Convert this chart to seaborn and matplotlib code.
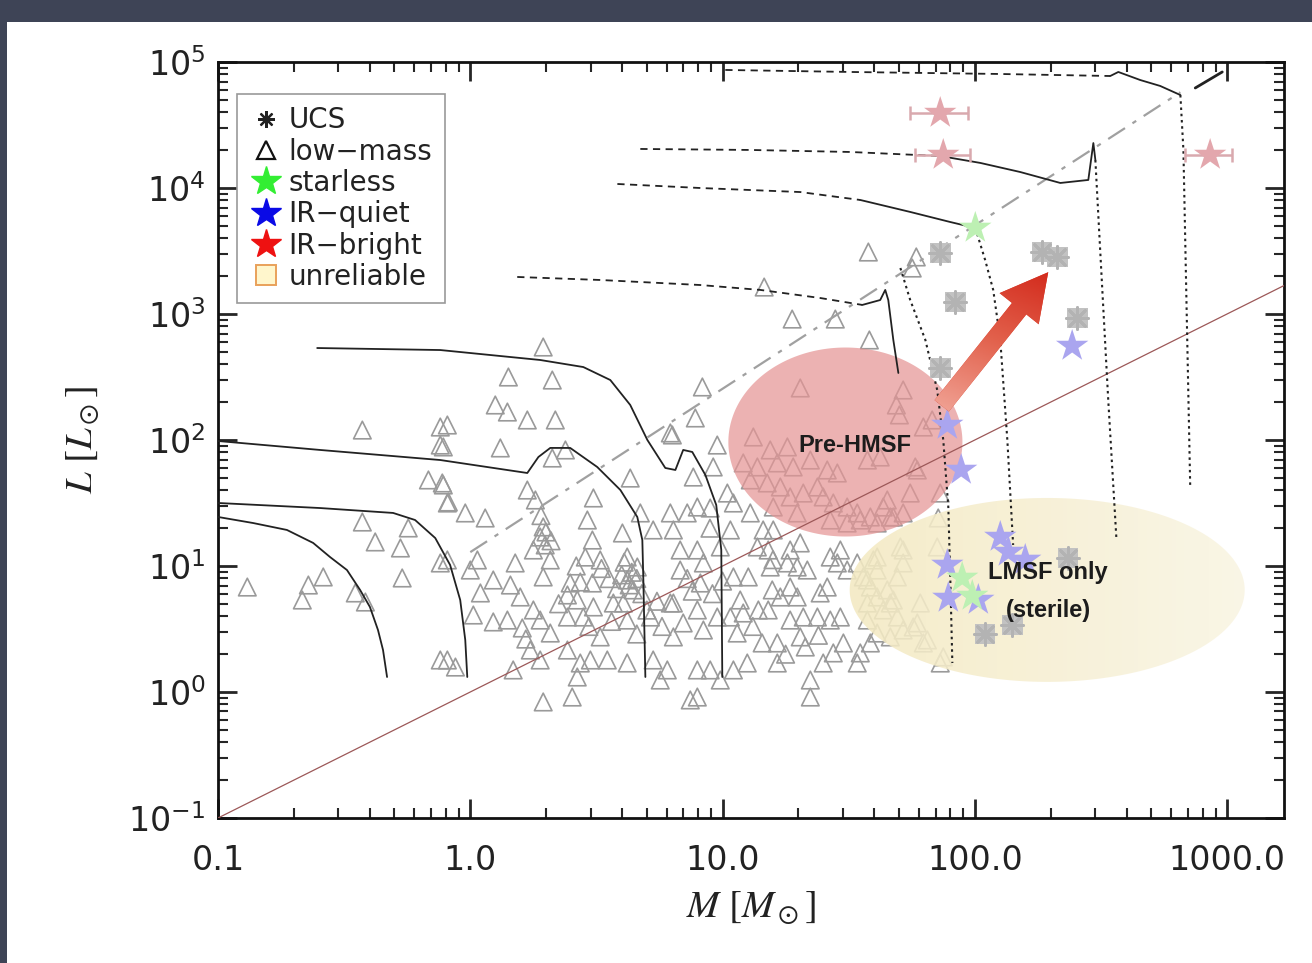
import numpy as np
import matplotlib.pyplot as plt
import seaborn as sns
from matplotlib.lines import Line2D
from matplotlib.patches import Rectangle, FancyArrowPatch
from matplotlib.colors import LinearSegmentedColormap
from matplotlib.ticker import LogLocator, NullFormatter, FixedLocator, FixedFormatter

# all values are log10(M/Msun), log10(L/Lsun)
lowmass_pts = [
    (-0.428, 2.079), (-0.884, 0.833), (-0.642, 0.849), (-0.583, 0.913), (-0.666, 0.730),
    (-0.456, 0.786), (-0.416, 0.714), (-0.428, 1.349), (-0.377, 1.191), (-0.246, 1.302),
    (-0.277, 1.143), (-0.270, 0.905), (-0.166, 1.683), (-0.111, 1.659), (-0.091, 1.500),
    (-0.119, 2.103), (-0.119, 1.960), (-0.119, 1.024), (-0.119, 0.254),
    (0.289, 2.738), (0.151, 2.500), (0.325, 2.476), (0.099, 2.278), (0.147, 2.222),
    (0.226, 2.159), (0.337, 2.159), (-0.091, 2.119), (0.920, 2.421), (0.892, 2.175),
    (0.793, 2.056),
    (0.119, 1.937), (0.325, 1.857), (0.377, 1.921), (-0.107, 1.945), (-0.107, 1.643),
    (-0.087, 1.508), (-0.020, 1.421), (0.059, 1.381), (0.226, 1.603), (0.258, 1.524),
    (0.488, 1.540), (0.464, 1.365), (0.634, 1.698), (0.289, 1.310), (0.277, 1.230),
    (0.297, 1.167), (0.484, 1.206), (0.603, 1.262), (0.250, 1.127), (0.317, 1.048),
    (0.178, 1.024), (0.028, 1.048), (0.000, 0.968), (-0.091, 1.048), (0.456, 1.071),
    (0.515, 1.048), (0.622, 1.071), (0.662, 0.992), (0.289, 0.913), (0.091, 0.889),
    (0.159, 0.849), (0.198, 0.754), (0.040, 0.786), (0.012, 0.611), (0.396, 0.865),
    (0.436, 0.873), (0.484, 0.865), (0.385, 0.770), (0.424, 0.730), (0.488, 0.675),
    (0.622, 0.889), (0.646, 0.810), (0.607, 0.706), (0.567, 0.706), (0.250, 0.651),
    (0.091, 0.556), (0.147, 0.571), (0.206, 0.508), (0.277, 0.571), (0.317, 0.468),
    (0.385, 0.595), (0.448, 0.595), (0.515, 0.437), (0.622, 0.571), (0.714, 0.595),
    (0.805, 0.706), (0.844, 0.548), (0.805, 0.437), (0.238, 0.333), (0.277, 0.254),
    (0.170, 0.175), (0.385, 0.333), (0.436, 0.230), (0.424, 0.119), (0.476, 0.254),
    (0.543, 0.254), (0.622, 0.230), (0.725, 0.254), (0.781, 0.175), (0.753, 0.095),
    (0.289, -0.079), (0.404, -0.040), (-0.091, 0.254), (-0.059, 0.198), (0.674, 1.421),
    (0.725, 1.286), (0.793, 1.421), (0.805, 1.286), (0.832, 1.127), (0.832, 0.968),
    (0.793, 0.706), (0.801, 2.040), (0.860, 1.421), (0.872, -0.063),
    (0.610, 1.030), (0.640, 0.950), (0.660, 0.900), (0.600, 0.930), (0.630, 0.850),
    (0.680, 0.780), (0.280, 1.400), (0.300, 1.270), (0.320, 1.200), (0.520, 0.980),
    (0.550, 0.900), (0.580, 0.820), (0.700, 0.650), (0.740, 0.720), (0.760, 0.520),
    (0.350, 0.700), (0.220, 0.420), (0.560, 0.560), (0.660, 0.460), (0.470, 0.520),
    (0.880, 0.800), (0.860, 0.900), (0.960, 0.780), (1.000, 0.880), (1.120, 0.520),
    (1.250, 0.300), (1.380, 0.450), (1.200, 1.050), (0.950, 1.300), (0.420, 1.000),
    (0.979, 1.960), (0.963, 1.786), (0.884, 1.706), (1.019, 1.579), (0.900, 1.468),
    (0.951, 1.460), (1.043, 1.500), (1.110, 1.421), (1.031, 1.286), (1.161, 1.286),
    (1.201, 1.286), (1.138, 1.151), (1.181, 1.127), (1.268, 1.127), (1.308, 1.183),
    (0.991, 1.151), (0.900, 1.127), (0.924, 1.024), (0.912, 0.865), (1.043, 0.913),
    (1.102, 0.913), (1.189, 0.992), (1.257, 1.024), (1.296, 0.992), (1.336, 0.968),
    (1.427, 1.071), (1.467, 1.127), (1.455, 1.024), (1.494, 0.968), (1.387, 0.786),
    (1.415, 0.833), (1.197, 0.810), (1.229, 0.754), (1.268, 0.833), (1.296, 0.754),
    (1.070, 0.730), (1.082, 0.627), (1.142, 0.651), (1.181, 0.651), (1.031, 0.595),
    (0.979, 0.595), (0.900, 0.651), (0.924, 0.492), (1.058, 0.468), (1.157, 0.389),
    (1.217, 0.389), (1.268, 0.571), (1.320, 0.595), (1.376, 0.595), (1.427, 0.571),
    (1.467, 0.595), (1.308, 0.437), (1.328, 0.357), (1.479, 0.389), (1.439, 0.310),
    (1.399, 0.230), (1.546, 0.310), (1.534, 0.230), (1.586, 0.389), (1.217, 0.230),
    (1.098, 0.230), (1.043, 0.175), (0.991, 0.095), (0.951, 0.175), (0.900, 0.175),
    (0.900, -0.040), (1.348, 0.095), (1.348, -0.040), (1.534, 1.024), (1.613, 1.071),
    (1.613, 0.968), (1.716, 1.127), (1.716, 1.024), (1.558, 0.913), (1.586, 0.833),
    (1.613, 0.754), (1.574, 0.706), (1.665, 0.706), (1.693, 0.595), (1.784, 0.706),
    (1.716, 0.492), (1.772, 0.548), (1.796, 0.389), (1.875, 0.278), (1.665, 0.437),
    (1.637, 0.651),
    (1.122, 2.024), (1.189, 1.921), (1.257, 1.945), (1.082, 1.818), (1.138, 1.786),
    (1.217, 1.818), (1.280, 1.786), (1.348, 1.841), (1.415, 1.762), (1.455, 1.738),
    (1.574, 1.841), (1.625, 1.865), (1.110, 1.683), (1.177, 1.659), (1.229, 1.627),
    (1.268, 1.548), (1.320, 1.579), (1.376, 1.627), (1.399, 1.548), (1.439, 1.500),
    (1.494, 1.468), (1.534, 1.421), (1.586, 1.389), (1.653, 1.524), (1.665, 1.389),
    (1.716, 1.421), (1.744, 1.579), (1.772, 1.762), (1.863, 1.579), (1.201, 1.468),
    (1.296, 1.421), (1.427, 1.365), (1.494, 1.341), (1.613, 1.341),
    (1.165, 3.214), (1.276, 2.960), (1.447, 2.960), (1.582, 2.794), (1.578, 3.492),
    (1.768, 3.453), (1.752, 3.365), (1.308, 2.413), (1.716, 2.397), (1.689, 2.278),
    (1.701, 2.199), (1.796, 2.103), (1.831, 2.159), (1.764, 1.786),
    (1.637, 1.468), (1.677, 1.389), (1.546, 1.365), (1.855, 1.381), (1.705, 1.151),
    (1.598, 1.048), (1.693, 0.913), (1.653, 0.810), (1.677, 0.730), (1.756, 0.516),
    (1.812, 0.413), (1.863, 0.230), (1.574, 0.889), (1.574, 0.571), (1.613, 0.468),
    (1.851, 1.151),
]

ucs_logM = [1.863, 1.923, 2.267, 2.327, 2.406, 1.863, 2.041, 2.149, 2.370]
ucs_logL = [3.484, 3.095, 3.492, 3.453, 2.968, 2.571, 0.460, 0.532, 1.064]

irquiet_logM = [2.386, 1.891, 1.946, 2.101, 2.133, 2.200, 1.891, 1.895, 2.014]
irquiet_logL = [2.746, 2.119, 1.762, 1.230, 1.111, 1.048, 1.008, 0.746, 0.730]

irbright_logM = [1.863, 1.875, 2.933]
irbright_logL = [4.595, 4.262, 4.262]
irbright_logM_lo = [1.744, 1.764, 2.834]
irbright_logM_hi = [1.974, 1.982, 3.021]

starless_logM = [2.002, 1.950, 1.990]
starless_logL = [3.683, 0.905, 0.762]

# evolutionary tracks (solid ones: low final mass)
trk1_logM = [-1.0, -0.861, -0.727, -0.623, -0.556, -0.489, -0.437, -0.398, -0.366, -0.346, -0.330]
trk1_logL = [1.389, 1.341, 1.286, 1.183, 1.071, 0.968, 0.810, 0.675, 0.492, 0.333, 0.119]
trk2_logM = [-1.0, -0.596, -0.306, -0.219, -0.139, -0.080, -0.040, -0.020, -0.012]
trk2_logL = [1.500, 1.460, 1.421, 1.365, 1.222, 1.008, 0.730, 0.413, 0.119]
trk3_logM = [-1.0, -0.596, -0.119, 0.226, 0.270, 0.317, 0.396, 0.503, 0.595, 0.662, 0.682, 0.686, 0.694]
trk3_logL = [1.992, 1.921, 1.841, 1.738, 1.865, 1.937, 1.937, 1.786, 1.603, 1.389, 1.206, 0.889, 0.119]
trk4_logM = [-0.607, -0.119, 0.277, 0.448, 0.555, 0.634, 0.702, 0.773, 0.813, 0.844, 0.880, 0.932, 0.975, 0.995, 0.999]
trk4_logL = [2.730, 2.714, 2.635, 2.579, 2.476, 2.278, 2.000, 1.778, 1.762, 1.921, 1.905, 1.722, 1.484, 1.127, 0.119]

# higher mass tracks: dashed accretion part, solid part, dotted final part
trk5_dash_logM = [0.186, 0.515, 0.912, 1.150, 1.387, 1.554]
trk5_dash_logL = [3.294, 3.270, 3.230, 3.191, 3.127, 3.072]
trk5_solid_logM = [1.554, 1.625, 1.645, 1.657, 1.677, 1.697]
trk5_solid_logL = [3.072, 3.111, 3.191, 3.111, 2.794, 2.532]
trk5_dot_logM = [1.705, 1.744, 1.804, 1.851, 1.875, 1.895, 1.903, 1.911]
trk5_dot_logL = [3.365, 3.111, 2.794, 2.397, 2.000, 1.468, 0.889, 0.230]

trk6_dash_logM = [0.583, 0.912, 1.308, 1.546]
trk6_dash_logL = [4.032, 4.000, 3.968, 3.905]
trk6_solid_logM = [1.546, 1.744, 1.903, 2.002]
trk6_solid_logL = [3.905, 3.810, 3.730, 3.683]
trk6_dot_logM = [2.002, 2.041, 2.073, 2.101, 2.129, 2.152]
trk6_dot_logL = [3.683, 3.429, 3.191, 2.794, 2.000, 1.167]

trk7_dash_logM = [0.674, 1.110, 1.506, 1.863]
trk7_dash_logL = [4.310, 4.302, 4.286, 4.254]
trk7_solid_logM = [1.863, 2.022, 2.180, 2.339, 2.450, 2.470, 2.478]
trk7_solid_logL = [4.254, 4.199, 4.127, 4.040, 4.064, 4.357, 4.222]
trk7_dot_logM = [2.478, 2.497, 2.529, 2.561]
trk7_dot_logL = [4.222, 3.508, 2.318, 1.230]

trk8_dash_logM = [1.011, 1.506, 2.101, 2.537]
trk8_dash_logL = [4.937, 4.921, 4.905, 4.889]
trk8_solid_logM = [2.537, 2.569, 2.656, 2.735, 2.815]
trk8_solid_logL = [4.889, 4.921, 4.857, 4.810, 4.738]
trk8_dot_logM = [2.815, 2.827, 2.839, 2.854]
trk8_dot_logL = [4.738, 4.302, 3.111, 1.627]
trk8_tail_logM = [2.874, 2.981]
trk8_tail_logL = [4.794, 4.921]

# L ~ M^1.3 reference and L = M line
ref_logM = [0.0, 2.815]
ref_logL = [1.11, 4.76]
unity_logM = [-1.0, 3.3]
unity_logL = [-1.0, 3.3]

# annotation regions (centre and half axes, in dex)
hmsf_centre = (1.487, 1.984)
hmsf_axes = (0.464, 0.750)
lmsf_centre = (2.287, 0.810)
lmsf_axes = (0.783, 0.730)
arrow_from = (1.862, 2.254)
arrow_to = (2.298, 3.349)

xlim = (0.1, 10 ** 3.226)
ylim = (0.1, 1e5)

sns.set_style('ticks')
plt.rcParams['font.family'] = ['DejaVu Sans']
plt.rcParams['axes.linewidth'] = 2.0

fig = plt.figure(figsize=(13.12, 9.63), dpi=100)
fig.patch.set_facecolor('#3e4456')
fig.add_artist(Rectangle((7 / 1312, 0), 1, 1 - 22 / 963, transform=fig.transFigure,
                         facecolor='white', edgecolor='none', zorder=-5))
ax = fig.add_axes([0.1662, 0.1506, 0.8125, 0.7850])
ax.set_facecolor('white')
ax.set_xscale('log')
ax.set_yscale('log')

lm = np.array(lowmass_pts)
sns.scatterplot(x=10 ** lm[:, 0], y=10 ** lm[:, 1], marker='^', s=160, color='#9c9c9c',
                facecolor='none', edgecolor='#9a9a9a', linewidth=1.2, ax=ax, zorder=2, legend=False)

# shaded regions
th = np.linspace(0, 2 * np.pi, 300)
ax.fill(10 ** (hmsf_centre[0] + hmsf_axes[0] * np.cos(th)), 10 ** (hmsf_centre[1] + hmsf_axes[1] * np.sin(th)),
        facecolor='#e59595', edgecolor='none', alpha=0.72, zorder=3)
ell = ax.fill(10 ** (lmsf_centre[0] + lmsf_axes[0] * np.cos(th)), 10 ** (lmsf_centre[1] + lmsf_axes[1] * np.sin(th)),
              facecolor='none', edgecolor='none', zorder=3)[0]
ycmap = LinearSegmentedColormap.from_list('yl', ['#e9d68c', '#efe1a8', '#f5ecc9', '#faf6e6'])
im = ax.imshow(np.linspace(0, 1, 256)[None, :], extent=(0, 1, 0, 1), transform=ax.transAxes,
               cmap=ycmap, aspect='auto', alpha=0.88, zorder=3)
im.set_clip_path(ell)

def line(lx, ly, **kw):
    ax.plot(10 ** np.array(lx), 10 ** np.array(ly), **kw)

line(unity_logM, unity_logL, color='#9c5858', lw=0.9, zorder=4)
line(ref_logM, ref_logL, color='#a0a0a0', lw=1.6, dashes=(9, 4, 2, 4), zorder=4)

solid = dict(color='#222222', lw=1.3, zorder=4)
dashed = dict(color='#222222', lw=1.3, dashes=(4, 3), zorder=4)
dotted = dict(color='#222222', lw=1.5, ls=(0, (1.2, 1.8)), zorder=4)
for lx, ly in [(trk1_logM, trk1_logL), (trk2_logM, trk2_logL), (trk3_logM, trk3_logL), (trk4_logM, trk4_logL)]:
    line(lx, ly, **solid)
for lx, ly in [(trk5_dash_logM, trk5_dash_logL), (trk6_dash_logM, trk6_dash_logL),
               (trk7_dash_logM, trk7_dash_logL), (trk8_dash_logM, trk8_dash_logL)]:
    line(lx, ly, **dashed)
for lx, ly in [(trk5_solid_logM, trk5_solid_logL), (trk6_solid_logM, trk6_solid_logL),
               (trk7_solid_logM, trk7_solid_logL), (trk8_solid_logM, trk8_solid_logL)]:
    line(lx, ly, **solid)
for lx, ly in [(trk5_dot_logM, trk5_dot_logL), (trk6_dot_logM, trk6_dot_logL),
               (trk7_dot_logM, trk7_dot_logL), (trk8_dot_logM, trk8_dot_logL)]:
    line(lx, ly, **dotted)
line(trk8_tail_logM, trk8_tail_logL, color='#222222', lw=2.0, zorder=4)

# sources (faded as in the slide)
ux, uy = 10 ** np.array(ucs_logM), 10 ** np.array(ucs_logL)
sns.scatterplot(x=ux, y=uy, marker='s', s=220, color='#c2c2c2', edgecolor='none',
                ax=ax, zorder=5, legend=False)
sns.scatterplot(x=ux, y=uy, marker=(8, 2, 0), s=250, color='#b3b3b3', linewidth=2,
                ax=ax, zorder=5, legend=False)
sns.scatterplot(x=10 ** np.array(irquiet_logM), y=10 ** np.array(irquiet_logL), marker='*', s=600,
                color='#aaa5ef', edgecolor='none', ax=ax, zorder=5, legend=False)
sns.scatterplot(x=10 ** np.array(starless_logM), y=10 ** np.array(starless_logL), marker='*', s=600,
                color='#bdf0b3', edgecolor='none', ax=ax, zorder=5, legend=False)
bx = 10 ** np.array(irbright_logM)
ax.errorbar(bx, 10 ** np.array(irbright_logL),
            xerr=[bx - 10 ** np.array(irbright_logM_lo), 10 ** np.array(irbright_logM_hi) - bx],
            fmt='none', ecolor='#d9a9ae', elinewidth=1.8, capsize=5, capthick=1.8, zorder=5)
sns.scatterplot(x=bx, y=10 ** np.array(irbright_logL), marker='*', s=600,
                color='#e3a7ad', edgecolor='none', ax=ax, zorder=6, legend=False)

# arrow with a light-to-red gradient
arr = FancyArrowPatch(tuple(10 ** np.array(arrow_from)), tuple(10 ** np.array(arrow_to)),
                      arrowstyle='simple,head_length=1.4,head_width=1.5,tail_width=0.55',
                      mutation_scale=24, facecolor='#d8402e', edgecolor='none', zorder=7)
ax.add_patch(arr)
u0, v0 = (arrow_from[0] + 1) / 4.226, (arrow_from[1] + 1) / 6
u1, v1 = (arrow_to[0] + 1) / 4.226, (arrow_to[1] + 1) / 6
gu, gv = np.meshgrid(np.linspace(0, 1, 400), np.linspace(0, 1, 400))
proj = ((gu - u0) * (u1 - u0) + (gv - v0) * (v1 - v0)) / ((u1 - u0) ** 2 + (v1 - v0) ** 2)
acmap = LinearSegmentedColormap.from_list('ar', ['#f0a092', '#e2614c', '#d32a1c'])
aim = ax.imshow(np.clip(proj, 0, 1), extent=(0, 1, 0, 1), origin='lower', transform=ax.transAxes,
                cmap=acmap, aspect='auto', zorder=7.5)
aim.set_clip_path(arr)

txt = dict(family=['Liberation Sans', 'DejaVu Sans'], weight='bold', fontsize=17, color='#1c1c1c',
           ha='center', va='center', zorder=8)
ax.text(10 ** 1.526, 10 ** 1.960, 'Pre-HMSF', **txt)
ax.text(10 ** 2.291, 10 ** 0.952, 'LMSF only', **txt)
ax.text(10 ** 2.291, 10 ** 0.643, '(sterile)', **txt)

handles = [
    Line2D([], [], ls='none', marker=(8, 2, 0), ms=12, mew=1.6, color='#222222', label='UCS'),
    Line2D([], [], ls='none', marker='^', ms=13, mfc='none', mec='#111111', mew=1.6, label='low\u2212mass'),
    Line2D([], [], ls='none', marker='*', ms=22, color='#33ee33', label='starless'),
    Line2D([], [], ls='none', marker='*', ms=22, color='#0a0ae6', label='IR\u2212quiet'),
    Line2D([], [], ls='none', marker='*', ms=22, color='#ee1111', label='IR\u2212bright'),
    Line2D([], [], ls='none', marker='s', ms=14, mfc='#fff6cc', mec='#e9a15a', mew=1.4, label='unreliable'),
]
leg = ax.legend(handles=handles, loc='upper left', bbox_to_anchor=(0.018, 0.958), borderaxespad=0,
                fontsize=20, handlelength=1.2, handletextpad=0.2, labelspacing=0.12, borderpad=0.45,
                fancybox=False, framealpha=1, edgecolor='#999999')
leg.get_frame().set_linewidth(1.2)
leg.set_zorder(10)
for t in leg.get_texts():
    t.set_color('#222222')

ax.set_xlim(*xlim)
ax.set_ylim(*ylim)
ax.xaxis.set_major_locator(FixedLocator([0.1, 1, 10, 100, 1000]))
ax.xaxis.set_major_formatter(FixedFormatter(['0.1', '1.0', '10.0', '100.0', '1000.0']))
ax.xaxis.set_minor_locator(LogLocator(base=10, subs=np.arange(2, 10), numticks=100))
ax.xaxis.set_minor_formatter(NullFormatter())
ax.yaxis.set_major_locator(LogLocator(base=10, numticks=20))
ax.yaxis.set_minor_locator(LogLocator(base=10, subs=np.arange(2, 10), numticks=100))
ax.yaxis.set_minor_formatter(NullFormatter())
ax.tick_params(which='major', direction='in', length=14, width=2, top=True, right=True,
               labelsize=24, labelcolor='#222222')
ax.tick_params(which='minor', direction='in', length=7, width=1.5, top=True, right=True)
ax.tick_params(axis='x', pad=19)
ax.tick_params(axis='y', pad=9)
for s in ax.spines.values():
    s.set_linewidth(2)
    s.set_color('#111111')

xl = ax.set_xlabel(r'$M\ \left[M_\odot\right]$', fontsize=28, color='#222222')
yl = ax.set_ylabel(r'$L\ \left[L_\odot\right]$', fontsize=28, color='#222222')
xl.set_math_fontfamily('stix')
yl.set_math_fontfamily('stix')
ax.xaxis.set_label_coords(0.5, -0.093)
ax.yaxis.set_label_coords(-0.11, 0.5)

fig.savefig('out.png', dpi=100, facecolor=fig.get_facecolor())
